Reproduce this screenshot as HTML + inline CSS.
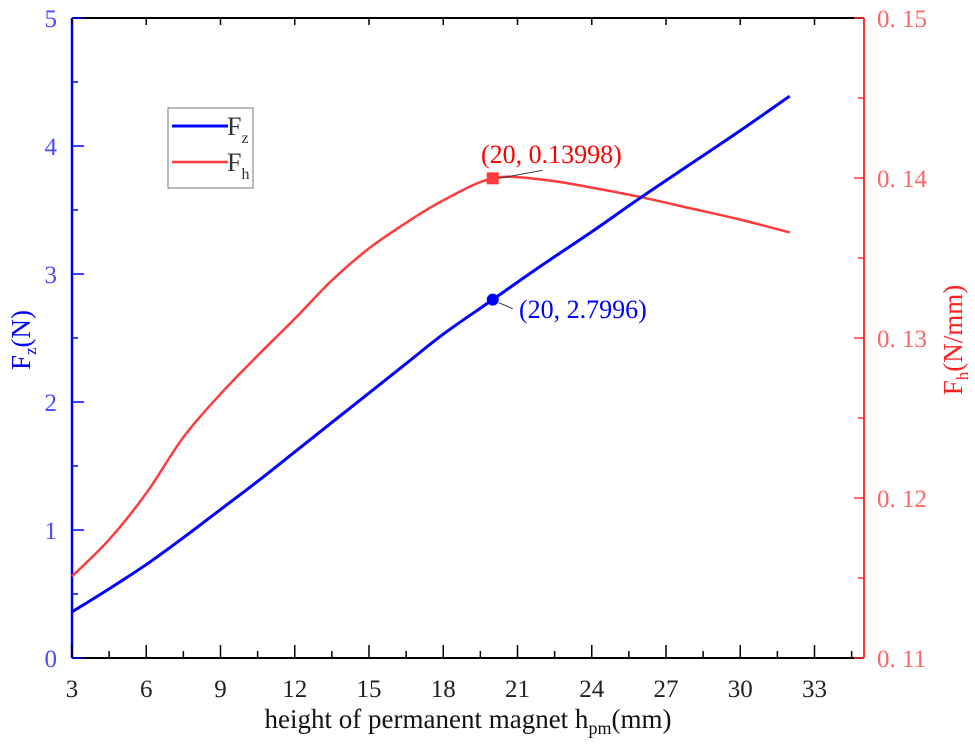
<!DOCTYPE html>
<html><head><meta charset="utf-8"><style>
body{margin:0;background:#fff}
svg, svg text{font-family:"Liberation Serif","DejaVu Serif",serif}
</style></head><body>
<svg id="chart" width="975" height="749" viewBox="0 0 975 749" font-family="Liberation Serif, DejaVu Serif, serif"></svg>
<script>
const xVals=[3,4.5,6,7.5,9,10.5,12,13.5,15,16.5,18,20,22,24,26,28,30,32];
const fzVals=[0.36,0.54,0.73,0.94,1.16,1.38,1.61,1.84,2.07,2.30,2.53,2.80,3.07,3.33,3.60,3.86,4.12,4.39];
const fhVals=[0.1151,0.1174,0.1203,0.1238,0.1265,0.1289,0.1312,0.1336,0.1356,0.1372,0.1386,0.13998,0.1399,0.1394,0.1388,0.1381,0.1374,0.1366];
const xTicks=[3,6,9,12,15,18,21,24,27,30,33];
const yLeftTicks=[0,1,2,3,4,5];
const yRightTicks=[0.11,0.12,0.13,0.14,0.15];
const yRightLabels=["0. 11","0. 12","0. 13","0. 14","0. 15"];
const markX=20, markFz=2.7996, markFh=0.13998;

const L=72,R=864,T=18,B=658;
const sx=v=>L+(v-3)/(35-3)*(R-L);
const syL=v=>B-v/5*(B-T);
const syR=v=>B-(v-0.11)/0.04*(B-T);
const svg=document.getElementById('chart');
const NS='http://www.w3.org/2000/svg';
function mk(tag,attrs,parent){const e=document.createElementNS(NS,tag);for(const k in attrs)e.setAttribute(k,attrs[k]);if(tag==='text')e.setAttribute('font-family','Liberation Serif, DejaVu Serif, serif');(parent||svg).appendChild(e);return e;}
function smooth(pts){let d=`M${pts[0][0]},${pts[0][1]}`;for(let i=0;i<pts.length-1;i++){const p0=pts[i-1]||pts[i],p1=pts[i],p2=pts[i+1],p3=pts[i+2]||p2;d+=` C${p1[0]+(p2[0]-p0[0])/6},${p1[1]+(p2[1]-p0[1])/6} ${p2[0]-(p3[0]-p1[0])/6},${p2[1]-(p3[1]-p1[1])/6} ${p2[0]},${p2[1]}`;}return d;}

let e=mk('line',{x1:L,y1:T,x2:R,y2:T,stroke:'#000','stroke-width':2});

e=mk('line',{x1:L,y1:B,x2:R,y2:B,stroke:'#000','stroke-width':2});

e=mk('line',{x1:L,y1:T,x2:L,y2:B,stroke:'#0000ff','stroke-width':2.5});

e=mk('line',{x1:R,y1:T,x2:R,y2:B,stroke:'#ff3333','stroke-width':2});


for(let v=3;v<=34.6;v+=1.5){const major=Math.abs((v-3)%3)<0.01;const x=sx(v);
 e=mk('line',{x1:x,y1:B,x2:x,y2:B-(major?13:7),stroke:'#000','stroke-width':1.5});
 
 e=mk('line',{x1:x,y1:T,x2:x,y2:T+(major?7:0),stroke:'#000','stroke-width':1.5});
 }
xTicks.forEach(v=>{e=mk('text',{x:sx(v),y:697,'text-anchor':'middle','font-size':25,fill:'#222'});e.textContent=v;
 });
for(let v=0;v<=5;v+=0.5){const y=syL(v);const major=Math.abs(v%1)<0.01;
 e=mk('line',{x1:L,y1:y,x2:L+(major?12:6),y2:y,stroke:'#0000ff','stroke-width':1.5});
 }
yLeftTicks.forEach(v=>{e=mk('text',{x:57,y:syL(v)+9,'text-anchor':'end','font-size':25,fill:'#4a4aff'});e.textContent=v;
 });
for(let v=0.11;v<=0.1501;v+=0.005){const y=syR(v);const major=Math.abs(((v-0.11)/0.01)-Math.round((v-0.11)/0.01))<0.01;
 e=mk('line',{x1:R,y1:y,x2:R-(major?10:6),y2:y,stroke:'#ff3333','stroke-width':1.5});
 }
yRightTicks.forEach((v,i)=>{e=mk('text',{x:877,y:syR(v)+9,'font-size':25,fill:'#ff6666'});e.textContent=yRightLabels[i];
 });

e=mk('text',{x:468,y:728,'text-anchor':'middle','font-size':27,fill:'#111'});
e.innerHTML='height of permanent magnet  h<tspan font-size="18" dy="6">pm</tspan><tspan dy="-6">(mm)</tspan>';

e=mk('text',{x:30,y:340,'text-anchor':'middle','font-size':27,fill:'#0000ff',transform:'rotate(-90 30 340)'});
e.innerHTML='F<tspan font-size="17" dy="6">z</tspan><tspan dy="-6">(N)</tspan>';

e=mk('text',{x:962,y:340,'text-anchor':'middle','font-size':27,fill:'#ff2222',transform:'rotate(-90 962 340)'});
e.innerHTML='F<tspan font-size="17" dy="6">h</tspan><tspan dy="-6">(N/mm)</tspan>';


e=mk('path',{d:smooth(xVals.map((x,i)=>[sx(x),syR(fhVals[i])])),fill:'none',stroke:'#ff3b3b','stroke-width':2.5});

e=mk('path',{d:smooth(xVals.map((x,i)=>[sx(x),syL(fzVals[i])])),fill:'none',stroke:'#0000ff','stroke-width':3});


const mx=sx(markX),my1=syR(markFh),my2=syL(markFz);
e=mk('line',{x1:mx+6,y1:my1,x2:mx+50,y2:my1-8,stroke:'#333','stroke-width':1});

e=mk('rect',{x:mx-6,y:my1-6,width:12,height:12,fill:'#ff3b3b'});

e=mk('text',{x:481,y:163,'font-size':26,fill:'#ff0000'});e.textContent='(20, 0.13998)';

e=mk('line',{x1:mx+6,y1:my2+3,x2:mx+20,y2:my2+9,stroke:'#333','stroke-width':1});

e=mk('circle',{cx:mx,cy:my2,r:6,fill:'#0000ff'});

e=mk('text',{x:519,y:318,'font-size':26,fill:'#0000ff'});e.textContent='(20, 2.7996)';


const lg=mk('g',{});

mk('rect',{x:168,y:108,width:85,height:80,fill:'#fff',stroke:'#777','stroke-width':1},lg);
e=mk('line',{x1:172,y1:126,x2:228,y2:126,stroke:'#0000ff','stroke-width':3},lg);

e=mk('text',{x:227,y:135,'font-size':26,fill:'#333'},lg);e.innerHTML='F<tspan font-size="16" dy="8">z</tspan>';

e=mk('line',{x1:172,y1:162,x2:228,y2:162,stroke:'#ff3b3b','stroke-width':2.5},lg);

e=mk('text',{x:227,y:171,'font-size':26,fill:'#333'},lg);e.innerHTML='F<tspan font-size="16" dy="8">h</tspan>';

</script>
</body></html>
